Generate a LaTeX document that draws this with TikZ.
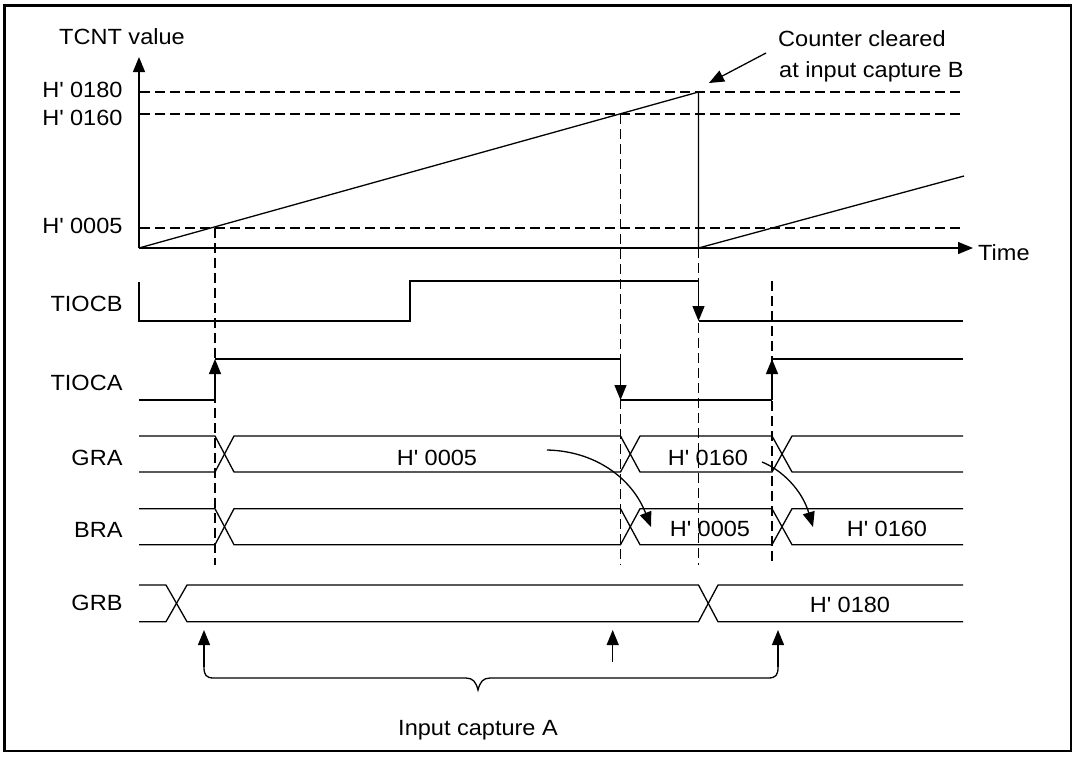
\documentclass[tikz,border=0pt]{standalone}
\usepackage{fontspec}
\setmainfont{Liberation Sans}[FakeStretch=1.07]
\usetikzlibrary{arrows.meta}
\newcommand\Hq{H\textquotesingle}
\begin{document}
\begin{tikzpicture}[x=1pt,y=-1pt,
  sig/.style={line width=1.3pt, line join=miter},
  dsh/.style={line width=1.1pt, dash pattern=on 10pt off 5pt},
  tipd/.style={-{Triangle[length=15pt,width=12pt]}},
  lbl/.style={inner sep=0pt, font=\fontsize{22}{26}\selectfont}]
\useasboundingbox (0,0) rectangle (1075,756);
\draw[line width=2.2pt] (4.5,5.5) rectangle (1071,751);

% coordinates
\coordinate (O) at (139,248);
\coordinate (Ytop) at (139,57);
\coordinate (Xend) at (973,248);
\coordinate (Peak) at (698.5,92);
\coordinate (Clr) at (698.5,248);
\coordinate (R2end) at (964,176);
\coordinate (P5) at (215,228);
\coordinate (P160) at (620.5,114);

% axes
\draw[sig,tipd] (O) -- (Ytop);
\draw[sig,tipd] (O) -- (Xend);

% horizontal dashed levels
\draw[dsh] (140,92) -- (963,92);
\draw[dsh] (140,114) -- (963,114);
\draw[dsh] (140,228) -- (963,228);

% ramps
\draw[sig] (O) -- (Peak) -- (Clr) -- (R2end);

% vertical dashed lines
\draw[dsh] (P5) -- (215,565);
\draw[dsh] (P160) -- (620.5,565);
\draw[dsh] (Clr) -- (698.5,565);
\draw[dsh] (772,281) -- (772,565);

% labels
\node[lbl,anchor=base west] (tcnt) at (59,44.3) {TCNT value};
\node[lbl,anchor=base east] (l180) at (122.7,97.3) {\Hq\ 0180};
\node[lbl,anchor=base east] (l160) at (122.7,125.7) {\Hq\ 0160};
\node[lbl,anchor=base east] (l005) at (122.7,233.3) {\Hq\ 0005};
\node[lbl,anchor=base west] (time) at (978,260) {Time};
\node[lbl,anchor=base west] (cc1) at (778,46.7) {Counter cleared};
\node[lbl,anchor=base west] (cc2) at (779,77.3) {at input capture B};
\coordinate (ccs) at (766,53);
\coordinate (cce) at (709,83);
\draw[sig,tipd] (ccs) -- (cce);

\node[lbl,anchor=base east] (nB) at (122.7,311.3) {TIOCB};
\node[lbl,anchor=base east] (nA) at (122.7,390.7) {TIOCA};
\node[lbl,anchor=base east] (nGRA) at (122.7,465) {GRA};
\node[lbl,anchor=base east] (nBRA) at (122.7,537.3) {BRA};
\node[lbl,anchor=base east] (nGRB) at (122.7,610.7) {GRB};

% TIOCB
\draw[sig] (139,282) -- (139,321) -- (410,321) -- (410,281) -- (698.5,281);
\draw[sig,tipd] (698.5,281) -- (698.5,321);
\draw[sig] (698.5,321) -- (963,321);

% TIOCA
\draw[sig] (139,400) -- (215,400);
\draw[sig,tipd] (215,400) -- (215,359);
\draw[sig] (215,359) -- (620.5,359);
\draw[sig,tipd] (620.5,359) -- (620.5,400);
\draw[sig] (620.5,400) -- (772,400);
\draw[sig,tipd] (772,400) -- (772,359);
\draw[sig] (772,359) -- (963,359);

% GRA bus
\draw[sig] (139,436) -- (215,436) -- (234,472) -- (620.5,472) -- (640,436) -- (772,436) -- (792,472) -- (963,472);
\draw[sig] (139,472) -- (215,472) -- (234,436) -- (620.5,436) -- (640,472) -- (772,472) -- (792,436) -- (963,436);
\node[lbl,anchor=base] (gra1) at (437,465) {\Hq\ 0005};
\node[lbl,anchor=base] (gra2) at (708,465) {\Hq\ 0160};

% BRA bus
\draw[sig] (139,508.7) -- (215,508.7) -- (234,544.7) -- (620.5,544.7) -- (640,508.7) -- (772,508.7) -- (792,544.7) -- (963,544.7);
\draw[sig] (139,544.7) -- (215,544.7) -- (234,508.7) -- (620.5,508.7) -- (640,544.7) -- (772,544.7) -- (792,508.7) -- (963,508.7);
\node[lbl,anchor=base] (bra1) at (710,536.7) {\Hq\ 0005};
\node[lbl,anchor=base] (bra2) at (887,536.7) {\Hq\ 0160};

% transfer arrows
\coordinate (t1s) at (547,450);
\coordinate (t1e) at (651,527);
\coordinate (t2s) at (762,462);
\coordinate (t2e) at (813,527);
\draw[sig,tipd] (t1s) .. controls (595,451) and (632,478) .. (t1e);
\draw[sig,tipd] (t2s) .. controls (782,470) and (802,490) .. (t2e);

% GRB bus
\draw[sig] (139,585) -- (166,585) -- (187,621.7) -- (698.5,621.7) -- (718,585) -- (963,585);
\draw[sig] (139,621.7) -- (166,621.7) -- (187,585) -- (698.5,585) -- (718,621.7) -- (963,621.7);
\node[lbl,anchor=base] (grb1) at (850,612.3) {\Hq\ 0180};

% input capture arrows and brace
\coordinate (a1) at (204,667);
\coordinate (a2) at (612.7,662);
\coordinate (a3) at (778,667);
\draw[sig,tipd] (a1) -- (204,630);
\draw[sig,tipd] (a2) -- (612.7,630);
\draw[sig,tipd] (a3) -- (778,630);
\draw[sig] (a1) .. controls (204,675) and (206,678) .. (214,678) -- (466,678)
  .. controls (473,678) and (476,682) .. (478,690)
  .. controls (480,682) and (483,678) .. (490,678) -- (768,678)
  .. controls (776,678) and (778,675) .. (a3);
\node[lbl,anchor=base west] (ica) at (398,735) {Input capture A};
\end{tikzpicture}
\end{document}
